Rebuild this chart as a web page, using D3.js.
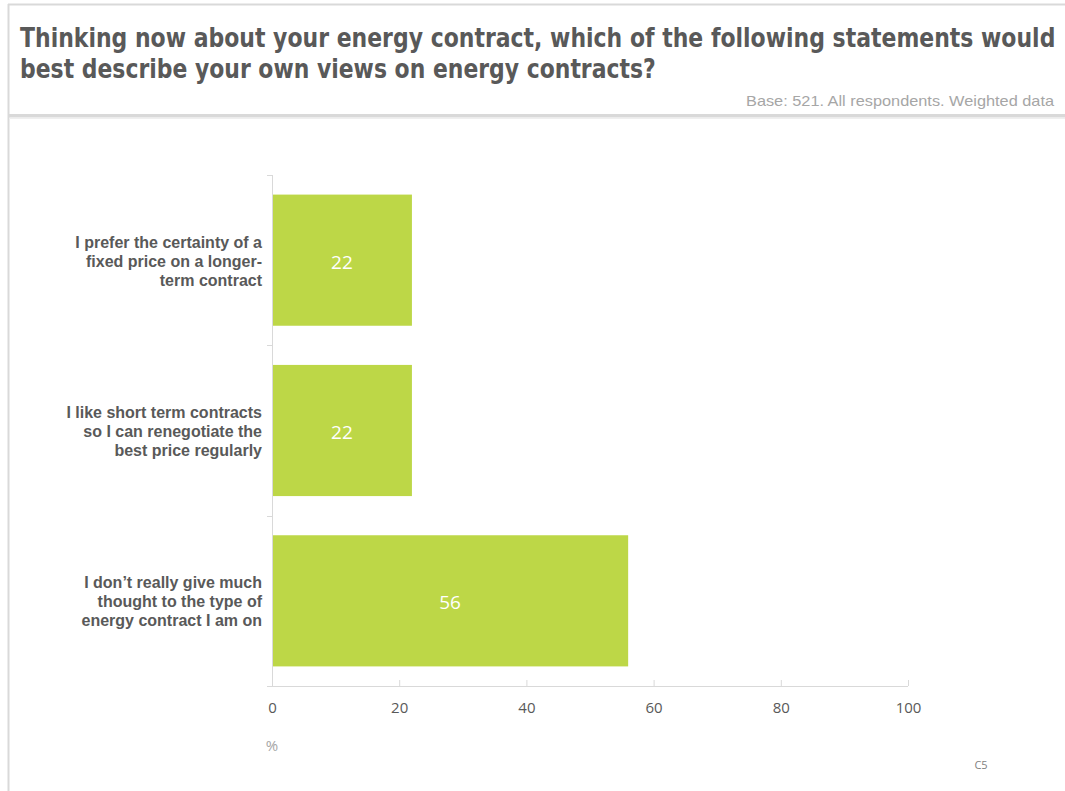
<!DOCTYPE html>
<html>
<head>
<meta charset="utf-8">
<script src="https://cdn.jsdelivr.net/npm/d3@7/dist/d3.min.js"></script>
<style>
  html, body { margin: 0; padding: 0; background: #fff; }
  svg { display: block; }
</style>
</head>
<body>
<svg id="chart" width="1065" height="791"></svg>
<script>
// Survey answers and shares (%)
const categories = [
  ["I prefer the certainty of a", "fixed price on a longer-", "term contract"],
  ["I like short term contracts", "so I can renegotiate the", "best price regularly"],
  ["I don\u2019t really give much", "thought to the type of", "energy contract I am on"]
];
const values = [22, 22, 56];
const xTicks = [0, 20, 40, 60, 80, 100];

const titleLines = [
  "Thinking now about your energy contract, which of the following statements would",
  "best describe your own views on energy contracts?"
];
const baseNote = "Base: 521. All respondents. Weighted data";
const unitLabel = "%";
const pageCode = "C5";

const svg = d3.select("#chart");
const W = 1065, H = 791;

// Slide frame
svg.append("line").attr("x1", 8.5).attr("x2", 8.5).attr("y1", 4).attr("y2", H)
  .attr("stroke", "#d9d9d9").attr("stroke-width", 2);
svg.append("line").attr("x1", 8).attr("x2", W).attr("y1", 4.5).attr("y2", 4.5)
  .attr("stroke", "#d9d9d9").attr("stroke-width", 2);
svg.append("rect").attr("x", 9).attr("y", 114).attr("width", W - 9).attr("height", 3.5)
  .attr("fill", "#d9d9d9");
svg.append("line").attr("x1", 9).attr("x2", W).attr("y1", 118.5).attr("y2", 118.5)
  .attr("stroke", "#efefef").attr("stroke-width", 1);

// Title: each line squeezed horizontally so it fits the header width
const titleWidths = [1036, 636];
titleLines.forEach((t, i) => {
  const g = svg.append("g");
  const txt = g.append("text")
    .attr("x", 0).attr("y", 0)
    .attr("font-family", "'DejaVu Sans', sans-serif")
    .attr("font-weight", "bold").attr("font-size", 26).attr("fill", "#595959")
    .text(t);
  const natural = txt.node().getComputedTextLength();
  g.attr("transform", `translate(20,${47 + i * 31}) scale(${titleWidths[i] / natural},1)`);
});

svg.append("text")
  .attr("x", 746).attr("y", 106)
  .attr("font-family", "'Liberation Sans', Arial, sans-serif")
  .attr("font-size", 15).attr("fill", "#a6a6a6")
  .attr("textLength", 308).attr("lengthAdjust", "spacingAndGlyphs")
  .text(baseNote);

// Plot area
const margin = { left: 272, right: 157, top: 175, bottom: 105 };
const x = d3.scaleLinear().domain([0, 100]).range([margin.left, W - margin.right]);
const y = d3.scaleBand().domain(d3.range(categories.length))
  .range([margin.top, H - margin.bottom]).paddingInner(0.23).paddingOuter(0.115);

// X axis
const xAxis = svg.append("g").attr("transform", `translate(0,${H - margin.bottom})`)
  .call(d3.axisBottom(x).tickValues(xTicks).tickSize(-6).tickPadding(16).tickSizeOuter(0));
xAxis.select(".domain").attr("stroke", "#d9d9d9").attr("d", `M${x(0) - 5},0.5H${x(100)}`);
xAxis.selectAll(".tick line").attr("stroke", "#d9d9d9");
xAxis.selectAll(".tick text")
  .attr("font-family", "'Open Sans', 'Noto Sans', sans-serif")
  .attr("font-size", 15).attr("fill", "#595959");

// Y axis with ticks between categories
const yAxisG = svg.append("g");
yAxisG.append("line")
  .attr("x1", margin.left + 0.5).attr("x2", margin.left + 0.5)
  .attr("y1", margin.top).attr("y2", H - margin.bottom)
  .attr("stroke", "#d9d9d9");
const step = y.step();
const bounds = d3.range(categories.length + 1).map(i => y(0) - y.step() * y.paddingOuter() + i * step);
yAxisG.selectAll("line.cat").data(bounds).join("line").attr("class", "cat")
  .attr("x1", margin.left - 5).attr("x2", margin.left)
  .attr("y1", d => Math.round(d) + 0.5).attr("y2", d => Math.round(d) + 0.5)
  .attr("stroke", "#d9d9d9");

// Bars
svg.append("g").selectAll("rect").data(values).join("rect")
  .attr("x", x(0) + 1).attr("y", (d, i) => y(i))
  .attr("width", d => x(d) - x(0) - 1).attr("height", y.bandwidth())
  .attr("fill", "#bdd747");

// Value labels
svg.append("g").selectAll("text").data(values).join("text")
  .attr("x", d => (x(0) + x(d)) / 2).attr("y", (d, i) => y(i) + y.bandwidth() / 2 + 2)
  .attr("dy", "0.35em").attr("text-anchor", "middle")
  .attr("font-family", "'Open Sans', 'Noto Sans', sans-serif")
  .attr("font-size", 19).attr("fill", "#ffffff")
  .text(d => d);

// Category labels
const catG = svg.append("g");
categories.forEach((lines, i) => {
  const cy = y(i) + y.bandwidth() / 2 + 1;
  const t = catG.append("text")
    .attr("text-anchor", "end")
    .attr("font-family", "'Liberation Sans', Arial, sans-serif")
    .attr("font-weight", "bold").attr("font-size", 16).attr("fill", "#595959");
  lines.forEach((l, j) => {
    t.append("tspan").attr("x", 262)
      .attr("y", cy + (j - (lines.length - 1) / 2) * 19).attr("dy", "0.35em").text(l);
  });
});

// Unit and page code
svg.append("text").attr("x", x(0)).attr("y", 751).attr("text-anchor", "middle")
  .attr("font-family", "'Open Sans', 'Noto Sans', sans-serif")
  .attr("font-size", 15).attr("fill", "#a6a6a6").text(unitLabel);
svg.append("text").attr("x", 981).attr("y", 769).attr("text-anchor", "middle")
  .attr("font-family", "'Open Sans', 'Noto Sans', sans-serif")
  .attr("font-size", 11).attr("fill", "#7f7f7f").text(pageCode);
</script>
</body>
</html>
